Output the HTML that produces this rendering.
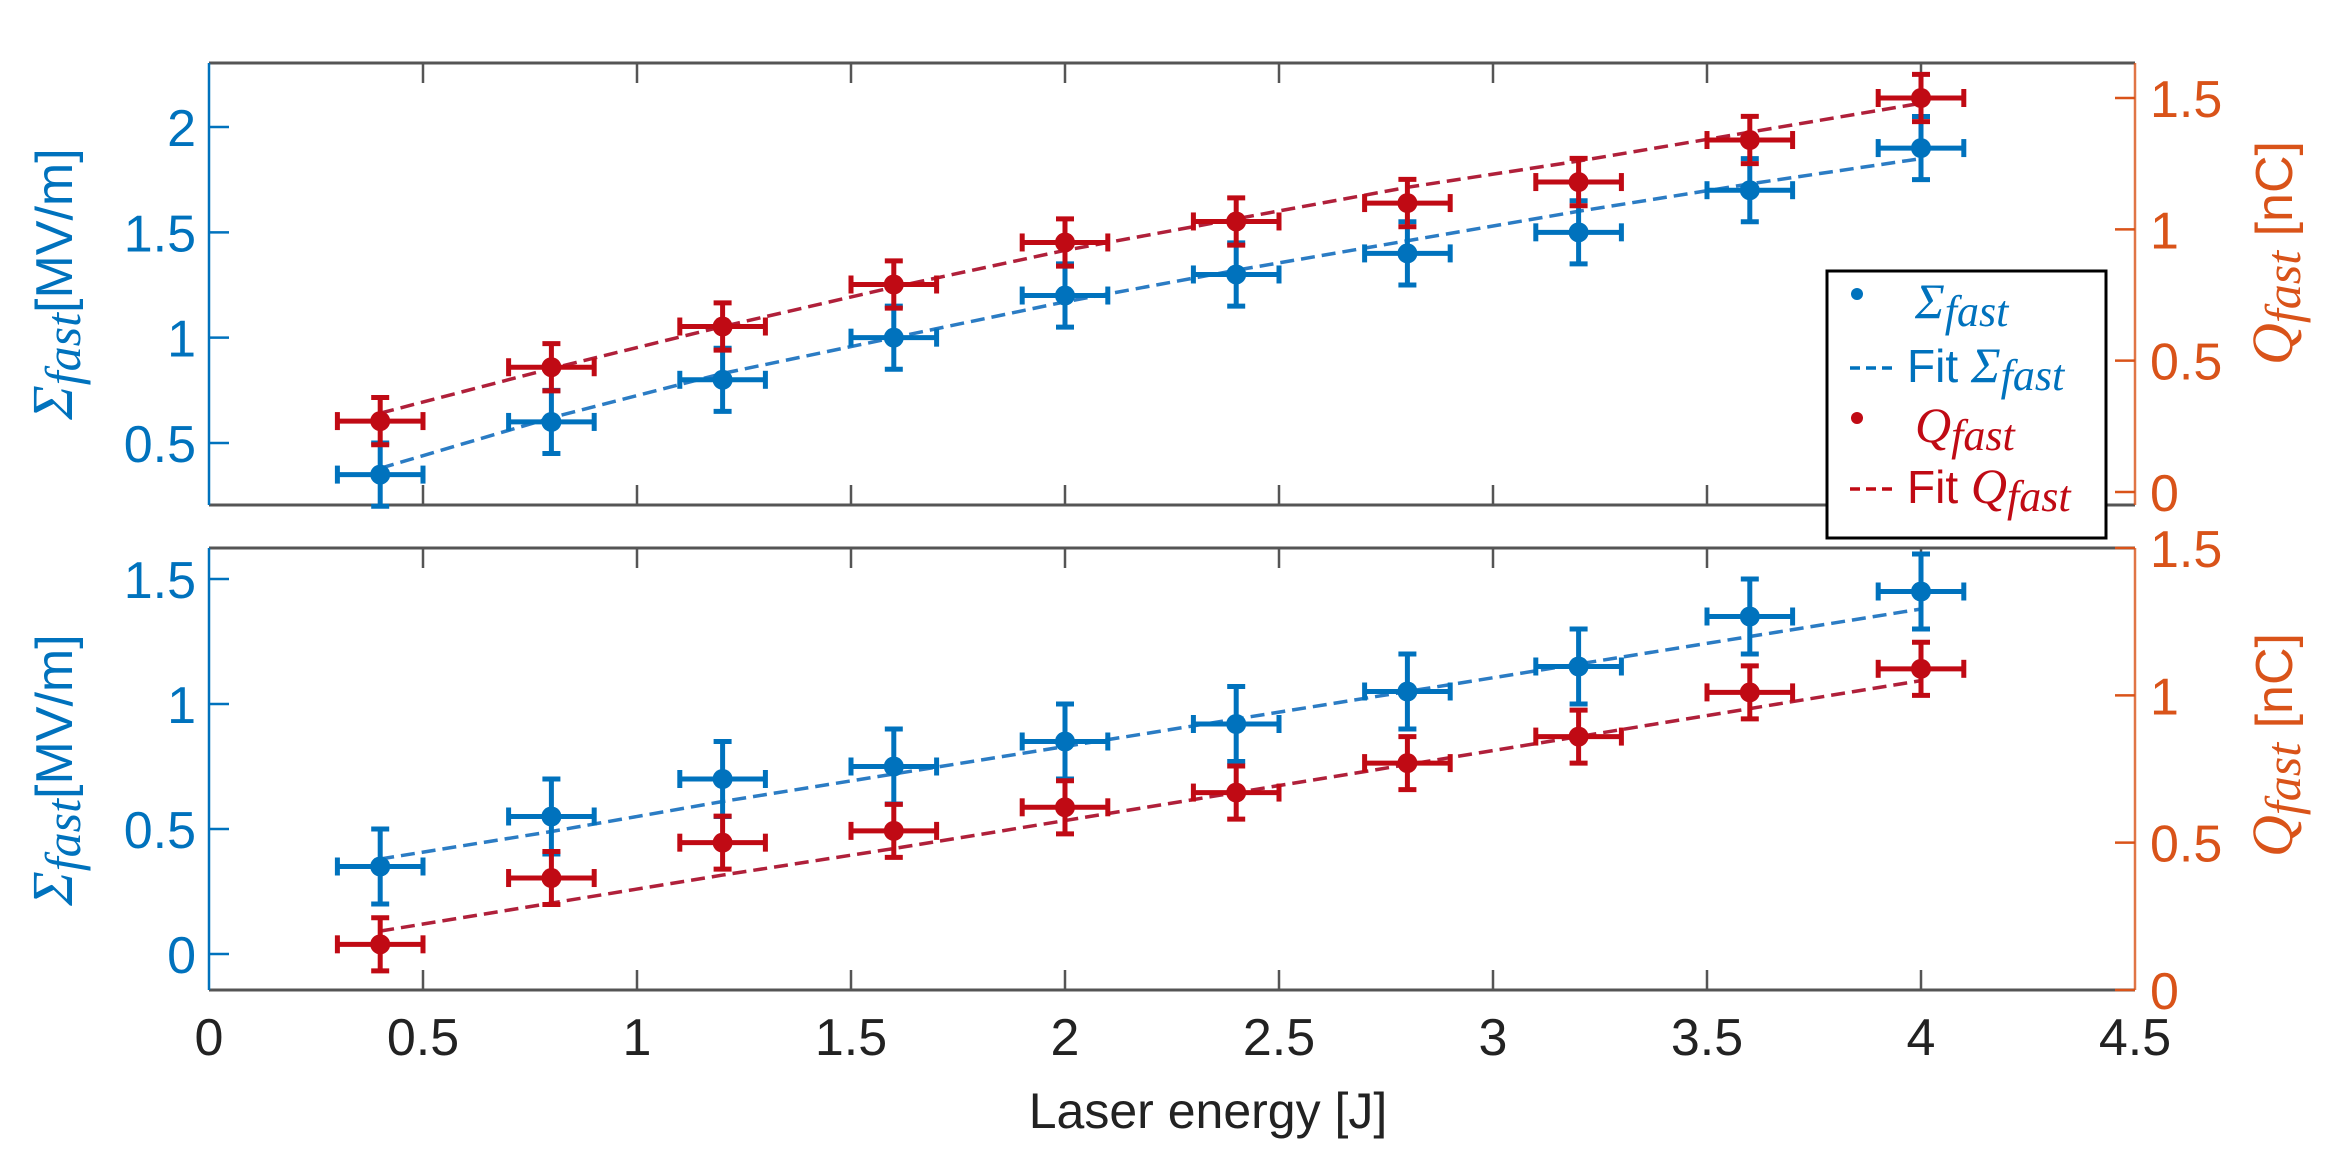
<!DOCTYPE html>
<html><head><meta charset="utf-8"><style>
html,body{margin:0;padding:0;background:#fff;}
svg{display:block;}
text{font-family:"Liberation Sans",sans-serif;}
.m{font-family:"Liberation Serif",serif;font-style:italic;}
</style></head><body>
<svg id="chart" width="2343" height="1164" viewBox="0 0 2343 1164" xmlns="http://www.w3.org/2000/svg">
<g id="g"></g>
</svg>
<script>
const energies=[0.4,0.8,1.2,1.6,2.0,2.4,2.8,3.2,3.6,4.0];
const topSigma=[0.35,0.6,0.8,1.0,1.2,1.3,1.4,1.5,1.7,1.9];
const topSigmaErr=[0.15,0.15,0.15,0.15,0.15,0.15,0.15,0.15,0.15,0.15];
const topSigmaFit=[0.38,0.62,0.83,1.0,1.17,1.32,1.46,1.6,1.73,1.85];
const topQ=[0.27,0.475,0.63,0.79,0.95,1.03,1.1,1.18,1.34,1.5];
const topQErr=[0.09,0.09,0.09,0.09,0.09,0.09,0.09,0.09,0.09,0.09];
const topQFit=[0.3,0.47,0.63,0.78,0.92,1.04,1.16,1.26,1.37,1.48];
const botSigma=[0.35,0.55,0.7,0.75,0.85,0.92,1.05,1.15,1.35,1.45];
const botSigmaErr=[0.15,0.15,0.15,0.15,0.15,0.15,0.15,0.15,0.15,0.15];
const botSigmaFit=[0.38,0.49,0.61,0.72,0.83,0.94,1.05,1.16,1.27,1.38];
const botQ=[0.155,0.38,0.5,0.54,0.62,0.67,0.77,0.86,1.01,1.09];
const botQErr=[0.09,0.09,0.09,0.09,0.09,0.09,0.09,0.09,0.09,0.09];
const botQFit=[0.2,0.295,0.39,0.48,0.575,0.67,0.765,0.86,0.955,1.05];
const xErr=0.1;
const xTicks=[0,0.5,1,1.5,2,2.5,3,3.5,4,4.5];
const xTickLabels=["0","0.5","1","1.5","2","2.5","3","3.5","4","4.5"];
const topLeftTicks=[0.5,1,1.5,2];
const topLeftLabels=["0.5","1","1.5","2"];
const topRightTicks=[0,0.5,1,1.5];
const topRightLabels=["0","0.5","1","1.5"];
const botLeftTicks=[0,0.5,1,1.5];
const botLeftLabels=["0","0.5","1","1.5"];
const botRightTicks=[0,0.5,1,1.5];
const botRightLabels=["0","0.5","1","1.5"];

const NS="http://www.w3.org/2000/svg";
const G=document.getElementById('g');
function el(t,a,p){const e=document.createElementNS(NS,t);for(const k in a)e.setAttribute(k,a[k]);(p||G).appendChild(e);return e;}
const X0=209,X1=2135,XMAX=4.5;
const sx=v=>X0+(X1-X0)*v/XMAX;
function lin(d0,d1,p0,p1){return v=>p0+(v-d0)*(p1-p0)/(d1-d0);}
const BLUE="#0072BD",RED="#C00A14",ORANGE="#D95319",BFIT="#2B7CC4",RFIT="#B0203A";

function panel(name,top,bot,yl,yr,lt,ll,rt,rl,sig,sigE,sigF,q,qE,qF,showXLabels){
  const pg=el('g',{});
  
  
  const bx=el('line',{x1:X0,y1:top,x2:X1,y2:top,stroke:'#555',"stroke-width":3},pg);
  
  const bb=el('line',{x1:X0,y1:bot,x2:X1,y2:bot,stroke:'#555',"stroke-width":3},pg);
  
  const la=el('line',{x1:X0,y1:top,x2:X0,y2:bot,stroke:BLUE,"stroke-width":2.5},pg);
  
  const ra=el('line',{x1:X1,y1:top,x2:X1,y2:bot,stroke:ORANGE,"stroke-width":2.5,opacity:0.8},pg);
  
  xTicks.forEach((t,i)=>{
    if(t===0||t===XMAX)return;
    const x=sx(t);
    el('line',{x1:x,y1:top,x2:x,y2:top+20,stroke:'#555',"stroke-width":2.5},pg);
    el('line',{x1:x,y1:bot,x2:x,y2:bot-20,stroke:'#555',"stroke-width":2.5},pg);
  });
  if(showXLabels){
    xTicks.forEach((t,i)=>{
      const tx=el('text',{x:sx(t),y:1055,"text-anchor":"middle","font-size":52,fill:'#222'},pg);
      tx.textContent=xTickLabels[i];
      
    });
  }
  lt.forEach((t,i)=>{const y=yl(t);
    el('line',{x1:X0,y1:y,x2:X0+20,y2:y,stroke:BLUE,"stroke-width":2.5},pg);
    const tx=el('text',{x:196,y:y+19,"text-anchor":"end","font-size":52,fill:BLUE},pg);tx.textContent=ll[i];
    });
  rt.forEach((t,i)=>{const y=yr(t);
    el('line',{x1:X1,y1:y,x2:X1-20,y2:y,stroke:ORANGE,"stroke-width":2.5},pg);
    const tx=el('text',{x:2150,y:y+19,"text-anchor":"start","font-size":52,fill:ORANGE},pg);tx.textContent=rl[i];
    });
  function fit(arr,sy,c,nm){
    const d=energies.map((e,i)=>(i?'L':'M')+sx(e)+' '+sy(arr[i])).join(' ');
    const p=el('path',{d:d,fill:'none',stroke:c,"stroke-width":3.5,"stroke-dasharray":"14 7"},pg);
    
  }
  function pts(arr,err,sy,c,nm){
    energies.forEach((e,i)=>{
      const x=sx(e),y=sy(arr[i]),y1=sy(arr[i]-err[i]),y2=sy(arr[i]+err[i]),xa=sx(e-xErr),xb=sx(e+xErr);
      const g=el('g',{stroke:c,"stroke-width":5,fill:c},pg);
      
      el('line',{x1:x,y1:y1,x2:x,y2:y2},g);
      el('line',{x1:x-9,y1:y1,x2:x+9,y2:y1},g);
      el('line',{x1:x-9,y1:y2,x2:x+9,y2:y2},g);
      el('line',{x1:xa,y1:y,x2:xb,y2:y},g);
      el('line',{x1:xa,y1:y-9,x2:xa,y2:y+9},g);
      el('line',{x1:xb,y1:y-9,x2:xb,y2:y+9},g);
      el('circle',{cx:x,cy:y,r:10,stroke:'none'},g);
    });
  }
  fit(sigF,yl,BFIT,'sigma-fit-line');
  fit(qF,yr,RFIT,'q-fit-line');
  pts(sig,sigE,yl,BLUE,'sigma-point');
  pts(q,qE,yr,RED,'q-point');
}
panel('top-panel',63,505,lin(0.5,2,443,127),lin(0,1.5,492,98),topLeftTicks,topLeftLabels,topRightTicks,topRightLabels,topSigma,topSigmaErr,topSigmaFit,topQ,topQErr,topQFit,false);
panel('bottom-panel',548,990,lin(0,1,954,704),lin(0,1.5,990,548),botLeftTicks,botLeftLabels,botRightTicks,botRightLabels,botSigma,botSigmaErr,botSigmaFit,botQ,botQErr,botQFit,true);

function ylab(x,y,col,sym,unit,nm){
  const t=el('text',{transform:`translate(${x},${y}) rotate(-90)`,"text-anchor":"middle","font-size":52,fill:col});
  
  const a=el('tspan',{class:'m',"font-size":58},t);a.textContent=sym;
  const b=el('tspan',{class:'m',"font-size":50,dy:8},t);b.textContent='fast';
  const c=el('tspan',{dy:-8},t);c.textContent=unit;
}
ylab(72,284,BLUE,'Σ','[MV/m]','top-left-y-title');
ylab(72,770,BLUE,'Σ','[MV/m]','bottom-left-y-title');
ylab(2292,253,ORANGE,'Q',' [nC]','top-right-y-title');
ylab(2292,745,ORANGE,'Q',' [nC]','bottom-right-y-title');
const xl=el('text',{x:1208,y:1128,"text-anchor":"middle","font-size":50,fill:'#222'});
xl.textContent='Laser energy [J]';



const lg=el('g',{});


el('rect',{x:1827,y:271,width:279,height:267,fill:'#fff',stroke:'#000',"stroke-width":3},lg);
function lrow(y,col,isFit,sym,nm){
  const g=el('g',{},lg);
  
  if(isFit){
    el('line',{x1:1850,y1:y-14,x2:1895,y2:y-14,stroke:col,"stroke-width":3.5,"stroke-dasharray":"10 6"},g);
    const t=el('text',{x:1907,y:y,"font-size":46,fill:col},g);
    const a=el('tspan',{},t);a.textContent='Fit ';
    const b=el('tspan',{class:'m',"font-size":50},t);b.textContent=sym;
    const c=el('tspan',{class:'m',"font-size":44,dy:8},t);c.textContent='fast';
  } else {
    el('circle',{cx:1857,cy:y-24,r:6,fill:col},g);
    const t=el('text',{x:1915,y:y,"font-size":46,fill:col},g);
    const b=el('tspan',{class:'m',"font-size":50},t);b.textContent=sym;
    const c=el('tspan',{class:'m',"font-size":44,dy:8},t);c.textContent='fast';
  }
}
lrow(318,BLUE,false,'Σ','legend-sigma');
lrow(382,BLUE,true,'Σ','legend-fit-sigma');
lrow(442,RED,false,'Q','legend-q');
lrow(503,RED,true,'Q','legend-fit-q');
</script>
</body></html>
